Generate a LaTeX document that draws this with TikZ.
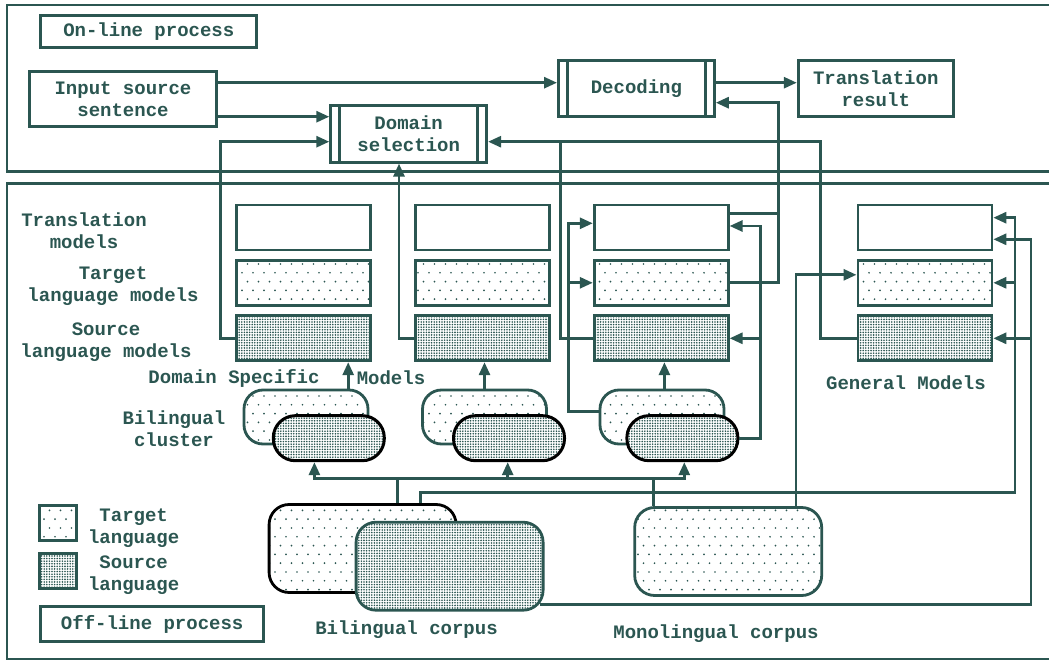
\documentclass[tikz,border=0pt]{standalone}
\usepackage{fontspec}
\setmainfont{Liberation Mono}
\usetikzlibrary{arrows.meta,patterns}
\definecolor{lc}{HTML}{2B5651}
\pgfdeclarepatternformonly{sparsedots}{\pgfqpoint{-1pt}{-1pt}}{\pgfqpoint{7pt}{10pt}}{\pgfqpoint{11pt}{17.6pt}}{%
  \pgfpathcircle{\pgfqpoint{0pt}{0pt}}{0.95pt}%
  \pgfpathcircle{\pgfqpoint{5.5pt}{8.8pt}}{0.95pt}%
  \pgfusepath{fill}}
\pgfdeclarepatternformonly{densedots}{\pgfqpoint{-1pt}{-1pt}}{\pgfqpoint{1pt}{1pt}}{\pgfqpoint{2.6pt}{2.6pt}}{%
  \pgfpathcircle{\pgfqpoint{0pt}{0pt}}{0.9pt}%
  \pgfusepath{fill}}

\begin{document}
\begin{tikzpicture}[x=1pt, y=-1pt, font=\fontsize{19}{22}\selectfont\bfseries]
    % Styles
    \tikzstyle{frame} = [draw=lc, line width=2.8pt]
    \tikzstyle{box} = [rectangle, draw=lc, line width=2.8pt, fill=white, text=lc, inner sep=0pt, align=center]
    \tikzstyle{procbox} = [box, minimum width=156pt, minimum height=56pt, path picture={
        \draw[lc, line width=2.8pt] ([xshift=9pt]path picture bounding box.north west) -- ([xshift=9pt]path picture bounding box.south west);
        \draw[lc, line width=2.8pt] ([xshift=-9pt]path picture bounding box.north east) -- ([xshift=-9pt]path picture bounding box.south east);}]
    \tikzstyle{tmbox} = [box, minimum width=134pt, minimum height=45pt]
    \tikzstyle{tlmbox} = [tmbox, preaction={fill=white}, pattern=sparsedots, pattern color=lc]
    \tikzstyle{slmbox} = [tmbox, preaction={fill=white}, pattern=densedots, pattern color=lc]
    \tikzstyle{tpill} = [draw=lc, line width=2.8pt, preaction={fill=white}, pattern=sparsedots, pattern color=lc, rounded corners=19pt, minimum width=124pt, minimum height=54pt, inner sep=0pt]
    \tikzstyle{spill} = [draw=black, line width=3pt, preaction={fill=white}, pattern=densedots, pattern color=lc, rounded corners=22pt, minimum width=111pt, minimum height=45pt, inner sep=0pt]
    \tikzstyle{corpus} = [draw=lc, line width=2.8pt, preaction={fill=white}, rounded corners=20pt, minimum width=187pt, minimum height=88pt, inner sep=0pt]
    \tikzstyle{txt} = [text=lc, align=center, inner sep=0pt]
    \tikzstyle{arrow} = [draw=lc, line width=2.8pt, -{Triangle[length=13pt,width=11pt]}]
    \tikzstyle{wire} = [draw=lc, line width=2.8pt]

    \useasboundingbox (0,0) rectangle (1049,660);

    % Frames
    \draw[frame] (7,5) rectangle (1070,171.7);
    \draw[frame] (7,183.3) rectangle (1070,659);

    % On-line nodes
    \node[box, minimum width=216pt, minimum height=32pt] (online) at (148.8,31.8) {On-line process};
    \node[box, minimum width=187pt, minimum height=55pt] (input) at (123,99.2) {Input source\\sentence};
    \node[procbox, minimum height=57pt] (dsel) at (408.7,133.7) {Domain\\selection};
    \node[procbox] (dec) at (636.4,88.7) {Decoding};
    \node[box, minimum width=155pt, minimum height=56pt] (result) at (875.7,88.7) {Translation\\result};

    % Model boxes
    \node[tmbox] (tm1) at (303.7,227.5) {};
    \node[tlmbox] (tlm1) at (303.7,282.8) {};
    \node[slmbox] (slm1) at (303.7,338.3) {};
    \node[tmbox] (tm2) at (482.7,227.5) {};
    \node[tlmbox] (tlm2) at (482.7,282.8) {};
    \node[slmbox] (slm2) at (482.7,338.3) {};
    \node[tmbox] (tm3) at (661.2,227.5) {};
    \node[tlmbox] (tlm3) at (661.2,282.8) {};
    \node[slmbox] (slm3) at (661.2,338.3) {};
    \node[tmbox] (gtm) at (924.9,227.5) {};
    \node[tlmbox] (gtlm) at (924.9,282.8) {};
    \node[slmbox] (gslm) at (924.9,338.3) {};

    % Bilingual clusters
    \node[tpill] (tp1) at (306,417) {};
    \node[spill] (sp1) at (328.8,438.2) {};
    \node[tpill] (tp2) at (484.5,417) {};
    \node[spill] (sp2) at (509,438.2) {};
    \node[tpill] (tp3) at (662,417) {};
    \node[spill] (sp3) at (682.4,438.2) {};

    % Corpora
    \node[corpus, draw=black, pattern=sparsedots, pattern color=lc] (bt) at (362.6,548.5) {};
    \node[corpus, pattern=densedots, pattern color=lc] (bs) at (449.6,566.2) {};
    \node[corpus, pattern=sparsedots, pattern color=lc] (mono) at (728.2,551.5) {};

    % Legend
    \node[box, minimum width=37pt, minimum height=35pt, preaction={fill=white}, pattern=sparsedots, pattern color=lc] (tsq) at (58.2,523.3) {};
    \node[box, minimum width=37pt, minimum height=35pt, preaction={fill=white}, pattern=densedots, pattern color=lc] (ssq) at (58.2,570.8) {};
    \node[box, minimum width=223pt, minimum height=35pt] (offline) at (152.2,624.2) {Off-line process};

    % Texts
    \node[txt] (tmtxt) at (84,231) {Translation\\models};
    \node[txt] (tlmtxt) at (113,286.5) {Target\\language models};
    \node[txt] (slmtxt) at (106,342) {Source\\language models};
    \node[txt] (dstxt) at (234,378) {Domain Specific};
    \node[txt] (mdtxt) at (391,378) {Models};
    \node[txt] (bltxt) at (174,428.5) {Bilingual\\cluster};
    \node[txt] (gmtxt) at (906,383) {General Models};
    \node[txt] (tltxt) at (133.7,528) {Target\\language};
    \node[txt] (sltxt) at (133.7,575) {Source\\language};
    \node[txt] (bctxt) at (406.5,630) {Bilingual corpus};
    \node[txt] (mctxt) at (716,634) {Monolingual corpus};

    % Junctions
    \coordinate (trunkA) at (820.3,141.7);
    \coordinate (trunkB) at (560.5,141.7);
    \coordinate (decIn) at (778.8,102.7);
    \coordinate (leftBus) at (568.2,223.3);
    \coordinate (rightBus) at (760.2,226);
    \coordinate (clusterBus) at (397.2,478.3);
    \coordinate (gBusA) at (1015,217.7);
    \coordinate (gBusB) at (1031,239.3);

    % Arrows on-line
    \draw[arrow] ([yshift=16.5pt]input.east) -- ([yshift=16.5pt]input.east -| dec.west);
    \draw[arrow] ([yshift=-17.5pt]input.east) -- ([yshift=-17.5pt]input.east -| dsel.west);
    \draw[arrow] ([yshift=6pt]dec.east) -- ([yshift=6pt]dec.east -| result.west);

    % Arrows to domain selection
    \draw[arrow] (slm1.west) -- ++(-15,0) |- ([yshift=-8pt]dsel.west);
    \draw[arrow] (slm2.west) -| ([xshift=-9.7pt]dsel.south);
    \draw[arrow] (gslm.west) -| (trunkA) -- (trunkA -| dsel.east);
    \draw[wire] (slm3.west) -| (trunkB);

    % Arrows to decoding
    \draw[arrow] (tlm3.east) -| (decIn) -- (decIn -| dec.east);
    \draw[wire] ([yshift=14pt]tm3.east) -- ([yshift=14pt]tm3.east -| decIn);

    % Third domain
    \draw[arrow] ([yshift=5.5pt]tp3.west) -| (leftBus) -- (leftBus -| tm3.west);
    \draw[arrow] (leftBus |- tlm3.west) -- (tlm3.west);
    \draw[arrow] (sp3.east) -| (rightBus) -- (rightBus -| tm3.east);
    \draw[arrow] (rightBus |- slm3.east) -- (slm3.east);

    % Clusters to models
    \draw[arrow] ([xshift=42.2pt]tp1.north) -- ([xshift=42.2pt]tp1.north |- slm1.south);
    \draw[arrow] (tp2.north) -- (tp2.north |- slm2.south);
    \draw[arrow] ([xshift=2.4pt]tp3.north) -- ([xshift=2.4pt]tp3.north |- slm3.south);

    % Corpora to clusters
    \draw[wire] (bt.north -| clusterBus) -- (clusterBus);
    \draw[arrow] (clusterBus) -| ([xshift=-14.4pt]sp1.south);
    \draw[arrow] (clusterBus) -| ([xshift=1.9pt]sp3.south);
    \draw[arrow] ([xshift=-1.3pt]clusterBus -| sp2.south) -- ([xshift=-1.3pt]sp2.south);
    \draw[wire] ([xshift=-74.9pt]mono.north) -- ([xshift=-74.9pt]mono.north |- clusterBus);

    % Corpora to general models
    \draw[arrow] ([xshift=57.6pt]bt.north) -- ++(0,-11) -| (gBusA) -- (gBusA -| gtm.east);
    \draw[arrow] (gBusA |- gtlm.east) -- (gtlm.east);
    \draw[arrow] ([xshift=-5pt,yshift=-38pt]bs.east) -| (gBusB) -- (gBusB -| gtm.east);
    \draw[arrow] (gBusB |- gslm.east) -- (gslm.east);
    \draw[arrow] ([xshift=67.8pt]mono.north) |- ([yshift=8pt]gtlm.west);
\end{tikzpicture}
\end{document}
